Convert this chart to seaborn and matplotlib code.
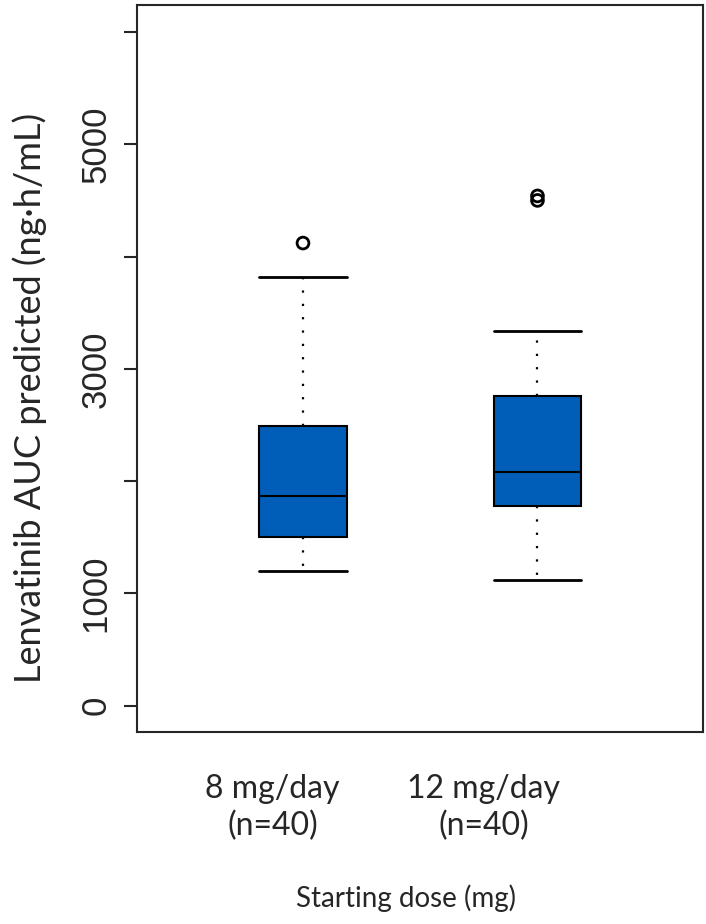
import pandas as pd
import numpy as np
import matplotlib
matplotlib.use("Agg")
import matplotlib.pyplot as plt
import seaborn as sns

# groups shown on the x axis
doses = ["8 mg/day", "12 mg/day"]
dose_labels = ["8 mg/day\n(n=40)", "12 mg/day\n(n=40)"]

# AUC values read off the boxes (min, quartiles, median, max of the non-outlier points)
auc_8mg = [1198, 1350, 1501, 1700, 1866, 2200, 2490, 3100, 3817]
auc_12mg = [1118, 1450, 1777, 1950, 2080, 2400, 2757, 3050, 3336]

# outliers drawn as open circles
out_8mg = [4120]
out_12mg = [4500, 4540]

yticks = [0, 1000, 2000, 3000, 4000, 5000, 6000]
ytick_labels = ["0", "1000", "", "3000", "", "5000", ""]

df = pd.DataFrame({
    "dose": [doses[0]] * len(auc_8mg) + [doses[1]] * len(auc_12mg),
    "auc": auc_8mg + auc_12mg,
})
df_out = pd.DataFrame({
    "dose": [doses[0]] * len(out_8mg) + [doses[1]] * len(out_12mg),
    "auc": out_8mg + out_12mg,
})

sns.set_style("ticks")
plt.rcParams["font.family"] = ["Lato", "DejaVu Sans"]

fig = plt.figure(figsize=(7.06, 9.24), dpi=100)
ax = fig.add_axes([0.194, 0.2078, 0.8018, 0.7868])

sns.boxplot(data=df, x="dose", y="auc", order=doses, whis=(0, 100),
            width=0.375, color="#005EB8", saturation=1, linecolor="black",
            linewidth=1.5, showfliers=False, capwidths=0.375,
            whiskerprops=dict(linestyle=(0, (1, 5)), linewidth=1.6),
            capprops=dict(linewidth=2), ax=ax)
sns.stripplot(data=df_out, x="dose", y="auc", order=doses, jitter=False,
              marker="o", size=8.5, facecolor="none", edgecolor="black",
              linewidth=2, ax=ax)

ax.set_xlim(-0.708, 1.706)
ax.set_ylim(-236, 6241)
ax.set_yticks(yticks)
ax.set_yticklabels(ytick_labels, rotation=90, va="center",
                   family="Liberation Sans", fontsize=25)
ax.set_xticks([-0.13, 0.77])
ax.set_xticklabels(dose_labels, fontsize=23, linespacing=1.3)
ax.tick_params(axis="x", length=0, pad=30)
ax.tick_params(axis="y", length=9.4, width=1.5, pad=8)
ax.set_xlabel("")
ax.set_ylabel("")
for s in ax.spines.values():
    s.set_linewidth(1.5)
    s.set_visible(True)

fig.text(30 / 706, 1 - 398 / 924, "Lenvatinib AUC predicted (ng\u00b7h/mL)",
         rotation=90, ha="center", va="center", fontsize=26)
fig.text(406 / 706, 1 - 898 / 924, "Starting dose (mg)",
         ha="center", va="center", fontsize=20)

fig.savefig("out.png", dpi=100)
